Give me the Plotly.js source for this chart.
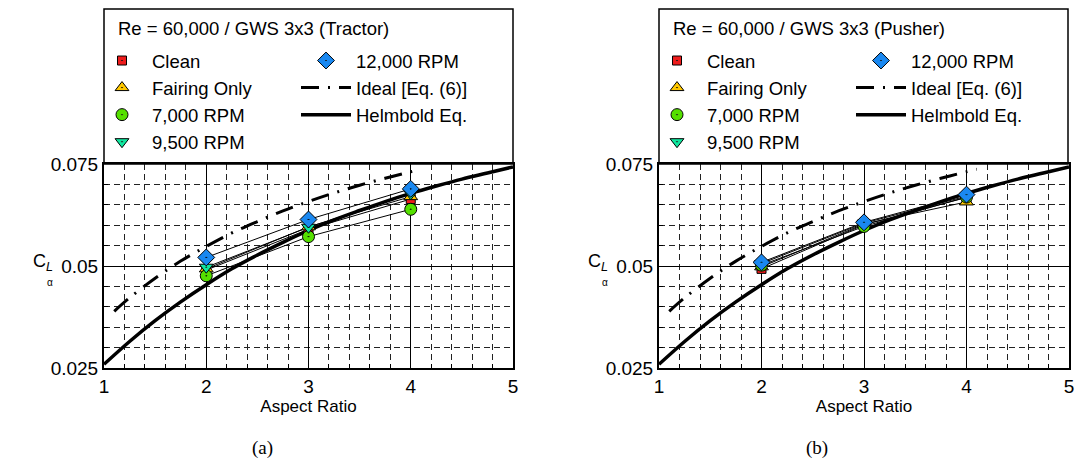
<!DOCTYPE html>
<html>
<head>
<meta charset="utf-8">
<script src="https://cdn.plot.ly/plotly-3.0.1.min.js"></script>
<style>html,body{margin:0;padding:0;background:#fff;}#chart{width:1075px;height:472px;}</style>
</head>
<body>
<div id="chart"></div>
<script>
// ---------- data ----------
const aspectRatio = [2, 3, 4];
const seriesNames = ["Clean", "Fairing Only", "7,000 RPM", "9,500 RPM", "12,000 RPM"];
// Tractor (a)
const cleanTractor   = [0.0490, 0.0590, 0.0664];
const fairingTractor = [0.0493, 0.0596, 0.0670];
const rpm7000Tractor = [0.0476, 0.0572, 0.0639];
const rpm9500Tractor = [0.0497, 0.0595, 0.0677];
const rpm12000Tractor= [0.0521, 0.0614, 0.0689];
// Pusher (b)
const cleanPusher    = [0.0493, 0.0601, 0.0668];
const fairingPusher  = [0.0498, 0.0603, 0.0657];
const rpm7000Pusher  = [0.0502, 0.0597, 0.0669];
const rpm9500Pusher  = [0.0506, 0.0605, 0.0671];
const rpm12000Pusher = [0.0509, 0.0607, 0.0675];
// Helmbold curve
const helmboldAR = [1, 1.25, 1.5, 1.75, 2, 2.25, 2.5, 2.75, 3, 3.25, 3.5, 3.75, 4, 4.25, 4.5, 4.75, 5];
const helmboldCL = [0.0259, 0.0315, 0.0366, 0.0412, 0.0454, 0.0493, 0.0527, 0.0558, 0.0587, 0.0613, 0.0636, 0.0658, 0.0678, 0.0696, 0.0713, 0.0728, 0.0743];
// Ideal [Eq. (6)]
const idealAR = [1.1, 1.25, 1.5, 1.75, 2, 2.25, 2.5, 2.75, 3, 3.25, 3.5, 3.75, 4, 4.1];
const idealCL = [0.0389, 0.0422, 0.0470, 0.0512, 0.0548, 0.0581, 0.0609, 0.0635, 0.0658, 0.0679, 0.0698, 0.0715, 0.0731, 0.0737];
const panelTitles = ["Re = 60,000 / GWS 3x3 (Tractor)", "Re = 60,000 / GWS 3x3 (Pusher)"];
const panelLabels = ["(a)", "(b)"];
const xTicks = [1, 2, 3, 4, 5];
const yTicks = [0.025, 0.05, 0.075];

// ---------- styles ----------
const FONT = "'Liberation Sans', Arial, sans-serif";
const W = 1075, H = 472;
const styles = [
  {symbol: "square-dot", color: "#ee1c1c", size: 9},
  {symbol: "triangle-up-dot", color: "#ffc800", size: 12},
  {symbol: "circle-dot", color: "#55e000", size: 12},
  {symbol: "triangle-down-dot", color: "#10e8a0", size: 12},
  {symbol: "diamond-dot", color: "#1a88f0", size: 13}
];
const panels = [
  {data: [cleanTractor, fairingTractor, rpm7000Tractor, rpm9500Tractor, rpm12000Tractor], xa: "x", ya: "y", off: 0},
  {data: [cleanPusher, fairingPusher, rpm7000Pusher, rpm9500Pusher, rpm12000Pusher], xa: "x2", ya: "y2", off: 555}
];

const traces = [];
const legendDefs = {};
const annotations = [];
const shapes = [];
const px = v => v / W;
const py = v => 1 - v / H;

panels.forEach((p, pi) => {
  const legA = pi === 0 ? "legend" : "legend3";
  const legB = pi === 0 ? "legend2" : "legend4";
  // thin connecting lines
  p.data.forEach((vals, i) => {
    traces.push({x: aspectRatio, y: vals, xaxis: p.xa, yaxis: p.ya, mode: "lines",
      line: {color: "#000", width: 1}, showlegend: false, hoverinfo: "skip"});
  });
  // ideal + Helmbold
  traces.push({x: idealAR, y: idealCL, xaxis: p.xa, yaxis: p.ya, mode: "lines", name: "Ideal [Eq. (6)]",
    line: {color: "#000", width: 3, dash: "18px,9px,2px,9px", shape: "spline"}, legend: legB, legendrank: 2});
  traces.push({x: helmboldAR, y: helmboldCL, xaxis: p.xa, yaxis: p.ya, mode: "lines", name: "Helmbold Eq.",
    line: {color: "#000", width: 3.5, shape: "spline"}, legend: legB, legendrank: 3});
  // markers
  p.data.forEach((vals, i) => {
    const s = styles[i];
    traces.push({x: aspectRatio, y: vals, xaxis: p.xa, yaxis: p.ya, mode: "markers", name: seriesNames[i],
      marker: {symbol: s.symbol, color: s.color, size: s.size, line: {color: "#000", width: 1}},
      legend: i === 4 ? legB : legA, legendrank: i === 4 ? 1 : i + 1});
  });
  const common = {font: {family: FONT, size: 18.5, color: "#000"}, bgcolor: "rgba(0,0,0,0)",
    borderwidth: 0, itemwidth: 50, yanchor: "top", xanchor: "left", orientation: "v", itemclick: false};
  legendDefs[legA] = Object.assign({}, common, {x: px(92 + p.off), y: py(42)});
  legendDefs[legB] = Object.assign({}, common, {x: px(296 + p.off), y: py(42)});
  // legend box
  shapes.push({type: "rect", xref: "paper", yref: "paper", x0: px(104 + p.off), x1: px(513 + p.off),
    y0: py(164), y1: py(9), line: {color: "#000", width: 1.5}, fillcolor: "rgba(0,0,0,0)", layer: "above"});
  annotations.push({xref: "paper", yref: "paper", x: px(116 + p.off), y: py(29), xanchor: "left", yanchor: "middle",
    text: panelTitles[pi], showarrow: false, font: {family: FONT, size: 18.5, color: "#000"}});
  // y title
  annotations.push({xref: "paper", yref: "paper", x: px(31 + p.off), y: py(262), xanchor: "left", yanchor: "middle",
    text: "C<sub><i>L</i></sub>", showarrow: false, font: {family: FONT, size: 18, color: "#000"}});
  annotations.push({xref: "paper", yref: "paper", x: px(45 + p.off), y: py(282), xanchor: "left", yanchor: "middle",
    text: "α", showarrow: false, font: {family: FONT, size: 10, color: "#000"}});
  // panel label
  annotations.push({xref: "paper", yref: "paper", x: px(262 + p.off), y: py(448), xanchor: "center", yanchor: "middle",
    text: panelLabels[pi], showarrow: false, font: {family: "'Liberation Serif', 'DejaVu Serif', serif", size: 19, color: "#000"}});
});

function xAxis(domain) {
  return {domain: domain, range: [1, 5], tickvals: xTicks, ticktext: xTicks.map(String),
    showgrid: true, gridcolor: "#000", gridwidth: 1, zeroline: false,
    ticks: "inside", ticklen: 6, tickcolor: "#000", showline: true, linecolor: "#000", linewidth: 2, mirror: true,
    minor: {dtick: 0.2, tick0: 1, showgrid: true, gridcolor: "#222", gridwidth: 1, griddash: "6px,4px", ticks: "inside", ticklen: 4, tickcolor: "#000"},
    tickfont: {family: FONT, size: 19, color: "#000"},
    title: {text: "Aspect Ratio", font: {family: FONT, size: 17, color: "#000"}, standoff: 2}, automargin: false, fixedrange: true};
}
function yAxis(anchor) {
  return {domain: [py(368), py(164)], range: [0.025, 0.075], tickvals: yTicks, ticktext: yTicks.map(String), anchor: anchor,
    showgrid: true, gridcolor: "#000", gridwidth: 1, zeroline: false,
    ticks: "inside", ticklen: 6, tickcolor: "#000", showline: true, linecolor: "#000", linewidth: 2, mirror: true,
    minor: {dtick: 0.005, tick0: 0.025, showgrid: true, gridcolor: "#222", gridwidth: 1, griddash: "6px,4px", ticks: "inside", ticklen: 4, tickcolor: "#000"},
    tickfont: {family: FONT, size: 19, color: "#000"}, automargin: false, fixedrange: true};
}

const layout = Object.assign({
  width: W, height: H, margin: {l: 0, r: 0, t: 0, b: 0},
  paper_bgcolor: "#fff", plot_bgcolor: "#fff", showlegend: true,
  font: {family: FONT, color: "#000"},
  xaxis: Object.assign(xAxis([px(104), px(513)]), {anchor: "y"}),
  yaxis: yAxis("x"),
  xaxis2: Object.assign(xAxis([px(659), px(1069)]), {anchor: "y2"}),
  yaxis2: yAxis("x2"),
  annotations: annotations, shapes: shapes
}, legendDefs);

Plotly.newPlot("chart", traces, layout, {displayModeBar: false, staticPlot: true});
</script>
</body>
</html>
